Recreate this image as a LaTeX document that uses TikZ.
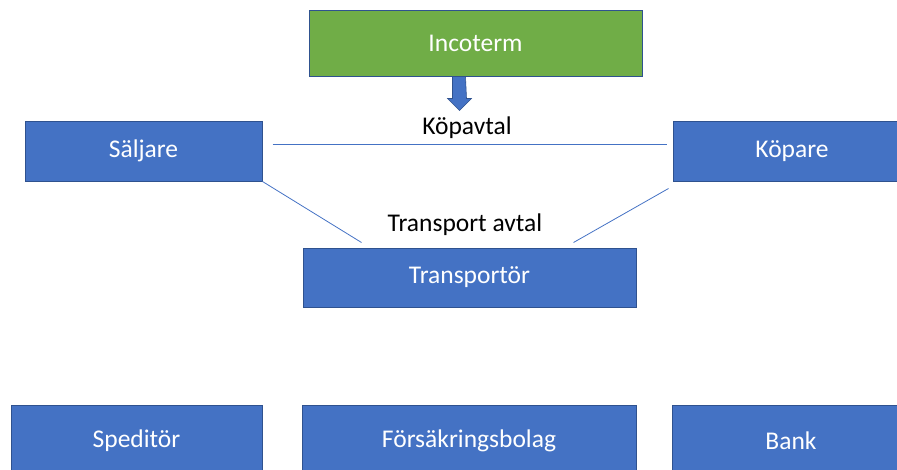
\documentclass[tikz,border=0pt]{standalone}
\usepackage{fontspec}
\setmainfont{Carlito}
\definecolor{ofblue}{HTML}{4472C4}
\definecolor{ofedge}{HTML}{2F528F}
\definecolor{ofgreen}{HTML}{70AD47}
\tikzset{
  box/.style={draw=ofedge, line width=1pt, fill=ofblue, text=white, inner sep=0pt,
    font=\fontsize{25.5}{30}\selectfont},
  gbox/.style={box, fill=ofgreen},
  lbl/.style={inner sep=0pt, text=black, font=\fontsize{25.5}{30}\selectfont},
  link/.style={draw=ofblue, line width=0.8pt}
}
\begin{document}
\begin{tikzpicture}[x=1pt,y=-1pt]
\useasboundingbox (0,0) rectangle (897,469);
\clip (0,0) rectangle (897,469);
\node[gbox, minimum width=333pt, minimum height=66pt] (inc) at (475.5,43) {Incoterm};
\node[box, minimum width=237pt, minimum height=60pt] (s) at (143.5,151) {Säljare};
\node[box, minimum width=238pt, minimum height=60pt] (k) at (792,151) {Köpare};
\node[box, minimum width=333pt, minimum height=59pt] (t) at (469.5,277.5) {Transportör};
\node[box, minimum width=251pt, minimum height=72pt] (sp) at (136.5,441) {Speditör};
\node[box, minimum width=334pt, minimum height=72pt] (f) at (469,441) {Försäkringsbolag};
\node[box, minimum width=238pt, minimum height=72pt] (b) at (791,441) {Bank};
\node[lbl] (kv) at (467,128) {Köpavtal};
\node[lbl] (ta) at (465,225) {Transport avtal};
% block arrow from Incoterm
\draw[draw=ofedge, line width=0.6pt, fill=ofblue]
  ([xshift=-23pt]inc.south) -- ++(0,22) -- ++(-5,0) -- ++(12,12) -- ++(12,-12)
  -- ++(-5,0) -- ([xshift=-10pt]inc.south) -- cycle;
% connectors
\draw[link] ([xshift=10pt,yshift=7pt]s.east) -- ([xshift=-6pt,yshift=7pt]k.west);
\draw[link] (s.south east) -- ([xshift=59pt,yshift=5pt]t.north west);
\draw[link] ([xshift=-4pt,yshift=-7pt]k.south west) -- ([xshift=-63pt,yshift=5pt]t.north east);
\end{tikzpicture}
\end{document}
